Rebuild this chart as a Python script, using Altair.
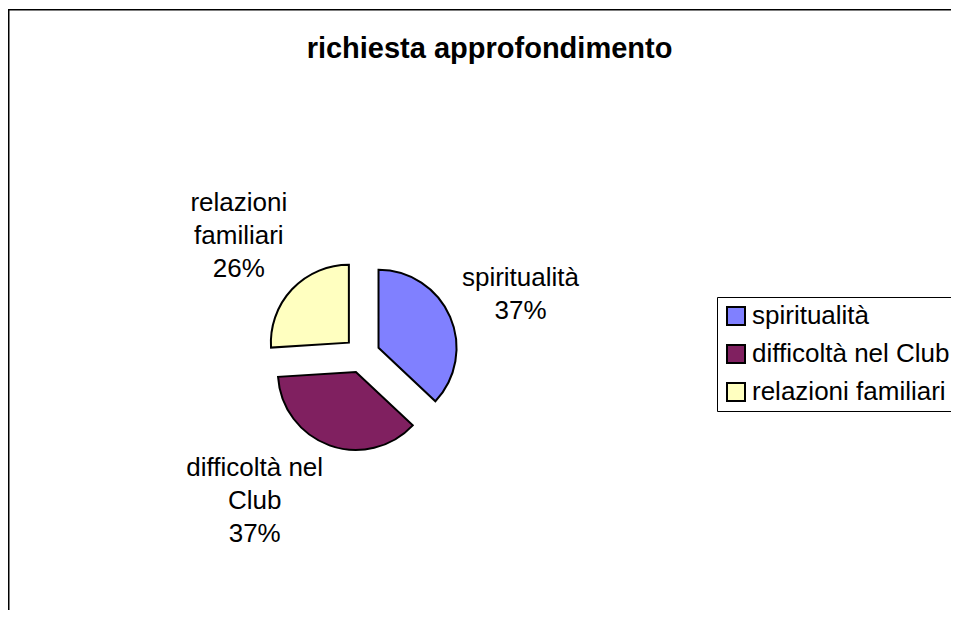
import altair as alt
import pandas as pd

# ---- data ----
categories = ["spiritualità", "difficoltà nel Club", "relazioni familiari"]
percent_values = [37, 37, 26]
label_lines = [["spiritualità"], ["difficoltà nel", "Club"], ["relazioni", "familiari"]]
colors = ["#8080ff", "#802060", "#ffffc0"]
title_text = "richiesta approfondimento"

total = sum(percent_values)
rows = []
for i, (cat, val, lines) in enumerate(zip(categories, percent_values, label_lines)):
    pct = f"{round(val / total * 100)}%"
    all_lines = lines + [pct]
    rows.append({
        "order": i,
        "category": cat,
        "value": val,
        "label": "\n".join(all_lines),
        "n_lines": len(all_lines),
        "max_chars": max(len(s) for s in all_lines),
    })
df = pd.DataFrame(rows)
title_df = pd.DataFrame({"title": [title_text]})

# ---- layout constants (pixels, chart coordinates) ----
W, H = 943, 602
CX, CY = 354, 347      # pie centre
R = 78                 # pie radius
EXPLODE = 18           # slice explosion
ANCHOR = 106           # label anchor distance from centre
CHAR_HALF = 5.1        # half of approx char width at 26px
LINE_H = 33
FONT = "Liberation Sans"

base = alt.Chart(df).transform_joinaggregate(
    total="sum(value)"
).transform_window(
    cum="sum(value)", sort=[alt.SortField("order")], frame=[None, 0]
).transform_calculate(
    a0="2*PI*(datum.cum - datum.value)/datum.total",
    a1="2*PI*datum.cum/datum.total",
).transform_calculate(
    mid="(datum.a0 + datum.a1)/2"
).transform_calculate(
    cx=f"{CX} + {EXPLODE}*sin(datum.mid)",
    cy=f"{CY} - {EXPLODE}*cos(datum.mid)",
    lx=f"{CX} + {ANCHOR}*sin(datum.mid) + datum.max_chars*{CHAR_HALF}*clamp(3*sin(datum.mid), -1, 1)",
    ly=(f"{CY} - {ANCHOR}*cos(datum.mid)"
        f" + (datum.n_lines*{LINE_H} - 8)/2*clamp(-1.4*cos(datum.mid), -1, 1)"
        f" - (datum.n_lines - 1)*{LINE_H}/2 - 2.5 + 4*clamp(-cos(datum.mid), 0, 1)"),
)

arcs = base.mark_arc(radius=R, stroke="black", strokeWidth=2).encode(
    x=alt.X("cx:Q", scale=None, axis=None),
    y=alt.Y("cy:Q", scale=None, axis=None),
    theta=alt.Theta("a0:Q", scale=None, stack=None),
    theta2=alt.Theta2("a1:Q"),
    color=alt.Color(
        "category:N",
        scale=alt.Scale(domain=categories, range=colors),
        sort=categories,
        legend=alt.Legend(
            title=None,
            orient="none",
            legendX=709,
            legendY=289,
            symbolType="square",
            symbolSize=324,
            symbolStrokeColor="black",
            symbolStrokeWidth=2,
            symbolOpacity=1,
            labelFont=FONT,
            labelFontSize=26,
            labelColor="black",
            labelOffset=3,
            labelLimit=400,
            rowPadding=12,
            padding=6,
            strokeColor="black",
            fillColor="white",
        ),
    ),
    order=alt.Order("order:Q"),
)

labels = base.mark_text(
    font=FONT, fontSize=26, lineHeight=LINE_H, align="center",
    baseline="middle", lineBreak="\n", color="black",
).encode(
    x=alt.X("lx:Q", scale=None, axis=None),
    y=alt.Y("ly:Q", scale=None, axis=None),
    text="label:N",
)

title = alt.Chart(title_df).mark_text(
    font=FONT, fontSize=29, fontWeight="bold", align="center",
    baseline="alphabetic", color="black",
).encode(
    x=alt.value(481.5), y=alt.value(49.5), text="title:N"
)

frame_left = alt.Chart(title_df).mark_rule(color="black", strokeWidth=1.5).encode(
    x=alt.value(0.75), y=alt.value(1), y2=alt.value(H)
)
frame_top = alt.Chart(title_df).mark_rule(color="black", strokeWidth=1.5).encode(
    x=alt.value(0), x2=alt.value(W), y=alt.value(1.75)
)

chart = alt.layer(frame_left, frame_top, title, arcs, labels).properties(
    width=W, height=H, padding=0,
    autosize=alt.AutoSizeParams(type="none"),
    background="white",
).configure_view(strokeWidth=0)

chart.save("out.html", embed_options={"renderer": "svg", "actions": False})
